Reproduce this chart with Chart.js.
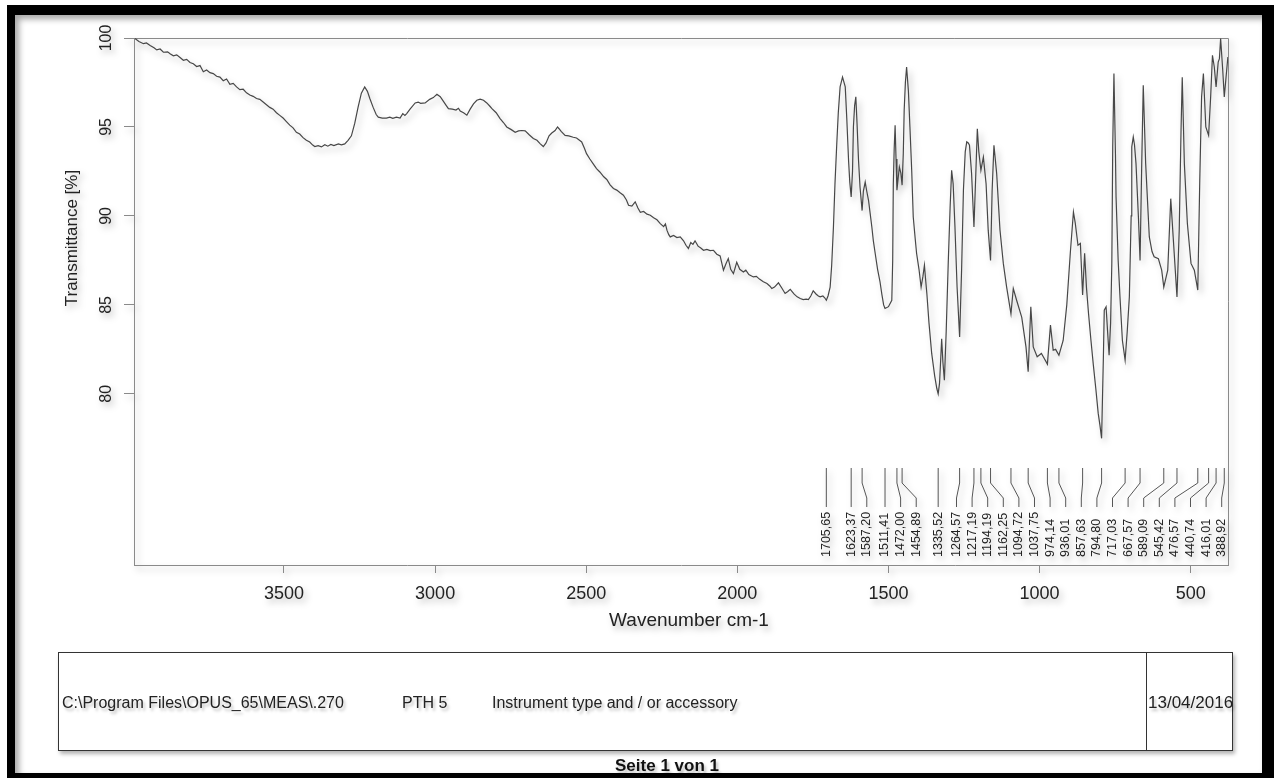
<!DOCTYPE html>
<html>
<head>
<meta charset="utf-8">
<script src="https://cdn.jsdelivr.net/npm/chart.js@4.4.1/dist/chart.umd.min.js"></script>
<style>
  html, body { margin: 0; padding: 0; background: #fff; width: 1274px; height: 778px; overflow: hidden;
    font-family: "Liberation Sans", Arial, sans-serif; }
  #frame { position: absolute; left: 7px; top: 5px; width: 1267px; height: 776px; box-sizing: border-box;
    border-style: solid; border-color: #000; border-width: 10px 12px 8px 8px;
    box-shadow: inset 4px 4px 6px rgba(0,0,0,0.35); }
  #chartWrap { position: absolute; left: 15px; top: 15px; width: 1247px; height: 630px; }
  #chartWrap canvas { filter: drop-shadow(3px 4px 3px rgba(0,0,0,0.28)); }
  #footer { position: absolute; left: 58px; top: 652px; width: 1175px; height: 99px; box-sizing: border-box;
    border: 1px solid #333; box-shadow: 2px 3px 4px rgba(0,0,0,0.3); }
  #footer .divider { position: absolute; left: 1087px; top: -1px; bottom: -1px; width: 0; border-left: 1px solid #333; }
  #footer span { position: absolute; top: 41px; font-size: 16px; color: #222; white-space: nowrap;
    text-shadow: 2px 3px 3px rgba(0,0,0,0.25); }
  #pageNo { position: absolute; left: 0; width: 1334px; top: 756px; text-align: center; font-weight: bold;
    font-size: 17px; color: #111; text-shadow: 2px 3px 3px rgba(0,0,0,0.25); }
</style>
</head>
<body>
<div id="frame"></div>
<div id="chartWrap"><canvas id="spectrum" width="1247" height="630"></canvas></div>
<div id="footer">
  <span style="left:3px">C:\Program Files\OPUS_65\MEAS\.270</span>
  <span style="left:343px">PTH 5</span>
  <span style="left:433px">Instrument type and / or accessory</span>
  <div class="divider"></div>
  <span style="left:1089px; font-size:17px; top:40px">13/04/2016</span>
</div>
<div id="pageNo">Seite 1 von 1</div>

<script>
// IR spectrum: [wavenumber cm-1, transmittance %]
const spectrum = [
  [3993,99.97],[3980,99.8],[3965,99.68],[3955,99.72],[3943,99.58],[3930,99.45],[3921,99.33],[3910,99.38],
  [3899,99.2],[3885,99.22],[3877,99.12],[3866,99.0],[3855,99.05],[3844,98.9],[3833,98.75],[3822,98.8],
  [3811,98.62],[3800,98.55],[3789,98.4],[3778,98.45],[3767,98.1],[3756,98.2],[3745,98.05],[3734,98.0],
  [3723,97.85],[3712,97.8],[3701,97.6],[3690,97.7],[3679,97.4],[3668,97.45],[3657,97.25],[3646,97.1],
  [3635,97.12],[3624,96.92],[3613,96.8],[3602,96.72],[3591,96.6],[3580,96.55],[3569,96.4],[3558,96.25],
  [3547,96.1],[3536,96.0],[3525,95.8],[3514,95.65],[3503,95.5],[3492,95.3],[3481,95.1],[3470,94.95],
  [3459,94.7],[3448,94.6],[3437,94.4],[3426,94.25],[3415,94.15],[3405,93.98],[3398,93.9],[3387,93.95],
  [3376,93.88],[3365,94.0],[3355,93.92],[3345,94.02],[3335,93.95],[3320,94.05],[3310,94.0],[3299,94.05],
  [3288,94.25],[3277,94.5],[3266,95.2],[3255,96.1],[3244,96.9],[3233,97.25],[3224,97.0],[3216,96.6],
  [3205,96.1],[3195,95.7],[3188,95.55],[3175,95.5],[3161,95.5],[3150,95.55],[3140,95.48],[3128,95.55],
  [3116,95.5],[3107,95.75],[3100,95.65],[3094,95.75],
  [3083,96.0],[3066,96.35],[3056,96.4],[3048,96.33],[3033,96.35],[3018,96.55],[3006,96.65],[2994,96.84],
  [2983,96.7],[2973,96.45],[2963,96.2],[2956,96.03],[2943,96.0],[2931,95.95],[2923,96.05],[2917,95.9],
  [2906,95.8],[2895,95.66],[2884,96.0],[2873,96.3],[2862,96.5],[2851,96.56],[2840,96.5],[2829,96.35],
  [2818,96.15],[2812,96.03],[2798,95.8],[2785,95.47],[2774,95.25],[2763,95.0],[2748,94.85],[2735,94.7],
  [2724,94.78],[2713,94.8],[2702,94.78],[2688,94.55],[2675,94.35],[2663,94.25],[2652,94.05],[2642,93.9],
  [2633,94.1],[2623,94.5],[2614,94.66],[2603,94.8],[2595,95.0],[2590,94.9],[2583,94.75],[2570,94.53],
  [2558,94.5],[2543,94.42],[2532,94.38],[2515,94.16],[2506,93.8],[2499,93.5],[2488,93.2],[2478,92.95],
  [2466,92.66],[2455,92.47],
  [2442,92.2],[2432,92.05],[2421,91.75],[2410,91.54],[2399,91.45],[2388,91.3],[2377,91.16],[2367,90.9],
  [2360,90.6],[2349,90.55],[2338,90.79],[2329,90.45],[2321,90.2],[2310,90.25],[2299,90.1],[2288,90.04],
  [2277,89.9],[2266,89.78],[2255,89.57],[2244,89.4],[2238,89.55],[2233,89.2],[2227,88.95],[2222,88.82],
  [2211,88.9],[2200,88.78],[2189,88.82],[2178,88.6],[2170,88.35],[2162,88.17],[2154,88.5],[2147,88.4],
  [2140,88.6],[2130,88.3],[2121,88.2],[2112,88.07],[2101,88.12],[2090,88.05],[2079,88.07],[2068,87.85],
  [2057,87.75],[2046,86.95],[2038,87.3],[2030,87.6],[2022,87.0],[2013,86.76],[2007,87.1],[2002,87.4],
  [1992,87.0],[1980,86.85],[1972,86.95],[1962,86.7],[1947,86.57],[1937,86.6],[1927,86.45],[1914,86.3],
  [1902,86.2],[1892,86.05],[1886,85.92],[1877,86.0],[1864,86.24],[1853,85.95],[1842,85.64],[1833,85.75],
  [1825,85.87],[1812,85.6],[1802,85.45],[1792,85.36],[1782,85.3],[1772,85.32],[1765,85.3],[1757,85.5],
  [1749,85.79],[1739,85.6],[1732,85.5],[1726,85.45],[1717,85.5],[1711,85.4],[1705.65,85.26],
  [1700,85.5],[1693,86.0],[1688,87.2],[1682,89.4],[1677,91.8],[1671,94.07],[1666,95.8],[1660,97.25],
  [1652,97.8],[1643,97.25],[1638,95.5],[1632,93.1],[1628,91.9],[1623.37,91.07],[1619,92.5],[1616,95.0],
  [1612,96.2],[1608,96.69],[1604,95.2],[1599,93.1],[1594,91.6],[1587.2,90.3],[1583,91.4],[1577,91.9],
  [1572,91.4],[1566,90.88],[1561,90.2],[1555,89.38],[1550,88.6],[1544,87.9],[1536,87.0],[1528,86.3],
  [1522,85.6],[1516,85.0],[1511.41,84.8],[1500,84.9],[1489,85.26],[1486,87.5],[1484,91.8],[1481,93.8],
  [1478,95.1],[1475,93.2],[1472,91.44],[1468,92.1],[1464,92.75],[1459,92.4],[1454.89,91.73],[1451,93.5],
  [1448,95.94],[1444,97.5],[1440,98.37],[1434,97.0],[1429,95.0],[1423,92.5],[1418,89.94],[1412,88.8],
  [1407,87.9],[1399,87.0],[1392,86.0],[1386,86.6],[1381,87.23],[1377,86.4],[1373,85.64],[1366,84.0],
  [1357,82.27],[1347,81.0],[1340,80.3],[1335.52,80.0],[1331,80.6],[1327,82.0],[1324,83.1],[1320,81.8],
  [1315,80.77],[1309,83.5],[1302,87.5],[1296,90.5],[1291,92.57],[1286,91.8],[1280,89.38],[1273,86.0],
  [1264.57,83.2],[1258,87.0],[1252,91.44],[1246,93.6],[1241,94.16],[1236,94.1],[1232,93.97],[1225,92.38],
  [1217.19,89.38],[1211,92.38],[1206,94.9],[1201,93.6],[1194.19,92.57],[1186,93.3],[1177,91.8],[1170,89.2],
  [1162.25,87.5],[1157,91.44],[1151,93.97],[1142,92.38],[1131,89.2],[1120,87.33],[1109,86.0],[1094.72,84.5],
  [1087,85.92],[1076,85.26],[1059,84.3],[1045,82.64],[1037.75,81.24],[1029,84.89],[1021,82.64],[1008,82.08],
  [994,82.27],[985,82.0],[974.14,81.67],[964,83.86],[955,82.45],[947,82.5],[936.01,82.17],[922,83.0],
  [910,85.0],[898,88.0],[888,90.22],[882,89.6],[873,88.35],[865,88.45],[857.63,85.55],[851,87.9],
  [845,86.0],[838,84.5],[830,83.0],[822,81.6],[814,80.3],[806,78.9],[800,78.2],[794.8,77.5],
  [789,82.0],[786,84.7],[780,84.89],[775,83.5],[770,82.17],[765,84.0],[761,87.33],[758,93.88],
  [754,98.0],[749,93.5],[747,91.07],[740,87.5],[734,85.45],[726,83.0],[717.03,81.9],[710,83.5],
  [703,85.45],[697,90.0],[695,93.88],[690,94.44],[686,94.0],[681,92.94],[673,89.94],[667.57,87.5],
  [662,92.94],[657,97.34],[649,92.94],[637,88.82],[628,88.0],[621,87.7],[607,87.6],[596,86.95],
  [589.09,86.0],[576,86.95],[566,90.97],[558,88.82],[545.42,85.45],[538,89.2],[532,94.8],[528,97.8],
  [521,92.94],[511,89.57],[499,87.33],[488,86.95],[476.57,85.83],[470,92.0],[464,96.69],[458,98.0],
  [450,95.0],[440.74,94.53],[434,96.69],[428,99.03],[422,98.37],[416.01,97.25],[409,98.65],[405,98.84],
  [401,99.97],[394,98.19],[388.92,96.69],[377,98.93]
];

// Picked absorption bands (cm-1)
const peakWavenumbers = [1705.65, 1623.37, 1587.20, 1511.41, 1472.00, 1454.89, 1335.52, 1264.57,
  1217.19, 1194.19, 1162.25, 1094.72, 1037.75, 974.14, 936.01, 857.63, 794.80, 717.03, 667.57,
  589.09, 545.42, 476.57, 440.74, 416.01, 388.92];

const xTickValues = [3500, 3000, 2500, 2000, 1500, 1000, 500];
const yTickValues = [80, 85, 90, 95, 100];
const xRange = [376.6, 3996.3];
const yRange = [70.38, 100];

const FONT = '"Liberation Sans", Arial, sans-serif';
const AXIS_GREY = '#8a8a8a';

// Closes the plot box on its top and right sides
const plotBox = {
  id: 'plotBox',
  beforeDatasetsDraw(chart) {
    const { ctx, chartArea: a } = chart;
    ctx.save();
    ctx.strokeStyle = AXIS_GREY;
    ctx.lineWidth = 1;
    ctx.beginPath();
    ctx.moveTo(a.left, a.top + 0.5);
    ctx.lineTo(a.right + 0.5, a.top + 0.5);
    ctx.lineTo(a.right + 0.5, a.bottom);
    ctx.stroke();
    ctx.restore();
  }
};

// Axis titles
const axisTitles = {
  id: 'axisTitles',
  afterDraw(chart) {
    const { ctx, chartArea: a } = chart;
    ctx.save();
    ctx.fillStyle = '#222';
    ctx.textAlign = 'center';
    ctx.textBaseline = 'middle';
    ctx.font = '19px ' + FONT;
    ctx.fillText('Wavenumber cm-1', (a.left + a.right) / 2 + 8, a.bottom + 56);
    ctx.translate(a.left - 62, a.top + 200);
    ctx.rotate(-Math.PI / 2);
    ctx.font = '17px ' + FONT;
    ctx.fillText('Transmittance [%]', 0, 0);
    ctx.restore();
  }
};

// Peak picking labels with leader lines, spread apart so they do not overlap
const peakLabels = {
  id: 'peakLabels',
  afterDatasetsDraw(chart) {
    const { ctx, chartArea: a } = chart;
    const xs = chart.scales.x;
    const gap = 15.6;
    const limit = a.right - 6.3;
    const want = peakWavenumbers.map(w => xs.getPixelForValue(w));
    const pos = want.slice();
    for (let i = 1; i < pos.length; i++) pos[i] = Math.max(want[i], pos[i - 1] + gap);
    pos[pos.length - 1] = Math.min(pos[pos.length - 1], limit);
    for (let i = pos.length - 2; i >= 0; i--) pos[i] = Math.min(pos[i], pos[i + 1] - gap);

    const yA = a.bottom - 97, yB = a.bottom - 82, yC = a.bottom - 67, yD = a.bottom - 58;
    ctx.save();
    ctx.strokeStyle = '#555';
    ctx.lineWidth = 1;
    want.forEach((px, i) => {
      ctx.beginPath();
      ctx.moveTo(px, yA);
      ctx.lineTo(px, yB);
      ctx.lineTo(pos[i], yC);
      ctx.lineTo(pos[i], yD);
      ctx.stroke();
    });
    ctx.fillStyle = '#222';
    ctx.font = '12.5px ' + FONT;
    ctx.textAlign = 'left';
    ctx.textBaseline = 'middle';
    peakWavenumbers.forEach((w, i) => {
      ctx.save();
      ctx.translate(pos[i], a.bottom - 8);
      ctx.rotate(-Math.PI / 2);
      ctx.fillText(w.toFixed(2).replace('.', ','), 0, 0);
      ctx.restore();
    });
    ctx.restore();
  }
};

new Chart(document.getElementById('spectrum'), {
  type: 'line',
  data: {
    datasets: [{
      data: spectrum.map(([x, y]) => ({ x, y })),
      borderColor: '#474747',
      borderWidth: 1.2,
      pointRadius: 0,
      tension: 0,
      fill: false
    }]
  },
  options: {
    responsive: false,
    animation: false,
    devicePixelRatio: 1,
    layout: { padding: { left: 0, top: 23, right: 34, bottom: 0 } },
    plugins: { legend: { display: false }, tooltip: { enabled: false } },
    scales: {
      x: {
        type: 'linear',
        reverse: true,
        min: xRange[0],
        max: xRange[1],
        afterBuildTicks: s => { s.ticks = xTickValues.map(v => ({ value: v })); },
        afterFit: s => { s.height = 80; },
        grid: { display: true, drawOnChartArea: false, drawTicks: true, tickLength: 8, color: AXIS_GREY, lineWidth: 1 },
        border: { display: true, color: AXIS_GREY, width: 1 },
        ticks: { callback: v => String(v), font: { family: FONT, size: 18 }, color: '#222',
          padding: 10, maxRotation: 0, autoSkip: false }
      },
      y: {
        type: 'linear',
        min: yRange[0],
        max: yRange[1],
        afterBuildTicks: s => { s.ticks = yTickValues.map(v => ({ value: v })); },
        afterFit: s => { s.width = 119; },
        grid: { display: true, drawOnChartArea: false, drawTicks: true, tickLength: 10, color: AXIS_GREY, lineWidth: 1 },
        border: { display: true, color: AXIS_GREY, width: 1 },
        ticks: { callback: v => String(v), font: { family: FONT, size: 16 }, color: '#222',
          minRotation: 90, maxRotation: 90, crossAlign: 'center', padding: 4, autoSkip: false }
      }
    }
  },
  plugins: [plotBox, peakLabels, axisTitles]
});
</script>
</body>
</html>
